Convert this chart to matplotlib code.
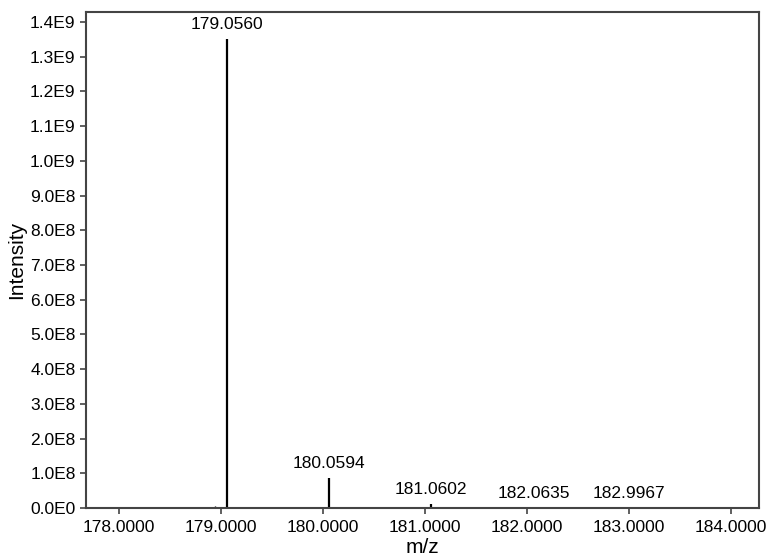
import numpy as np
import matplotlib
matplotlib.use("Agg")
from matplotlib import pyplot as plt
from matplotlib.ticker import FuncFormatter

# labelled peaks
mz = [179.0560, 180.0594, 181.0602, 182.0635, 182.9967]
intensity = [1.352e9, 8.7e7, 1.2e7, 6e5, 5e5]

# small unlabelled noise peaks
noise_mz = [178.94, 179.02, 179.11, 179.15, 180.10]
noise_int = [5e6, 2e6, 3e6, 1.5e6, 1e6]

xticks = [178, 179, 180, 181, 182, 183, 184]
yticks = np.arange(0, 1.41e9, 1e8)

plt.rcParams['font.family'] = ['Liberation Sans', 'DejaVu Sans']

def sci_fmt(v, pos):
    if v == 0:
        return "0.0E0"
    e = int(np.floor(np.log10(abs(v)) + 1e-9))
    return "%.1fE%d" % (v / 10**e, e)

fig = plt.figure(figsize=(7.66, 5.60), dpi=100)
ax = fig.add_axes([0.1123, 0.0929, 0.8786, 0.8857])

ax.vlines(noise_mz, 0, noise_int, color='black', linewidth=1.0)
ax.vlines(mz, 0, intensity, color='black', linewidth=1.6)
for m, i in zip(mz, intensity):
    ax.annotate("%.4f" % m, (m, i), xytext=(0, 5), textcoords='offset points',
                ha='center', va='bottom', fontsize=12.5)

ax.set_xlim(177.677, 184.275)
ax.set_ylim(0, 1.429e9)
ax.set_xticks(xticks)
ax.set_xticklabels(["%.4f" % t for t in xticks])
ax.set_yticks(yticks)
ax.yaxis.set_major_formatter(FuncFormatter(sci_fmt))
ax.tick_params(labelsize=12.5, length=4, width=1.2, color='#444444', direction='out')
ax.tick_params(axis='x', pad=5)

for s in ax.spines.values():
    s.set_color('#444444')
    s.set_linewidth(1.5)

ax.set_xlabel("m/z", fontsize=15, labelpad=2)
ax.set_ylabel("Intensity", fontsize=15, labelpad=3)

fig.savefig("out.png", dpi=100)
